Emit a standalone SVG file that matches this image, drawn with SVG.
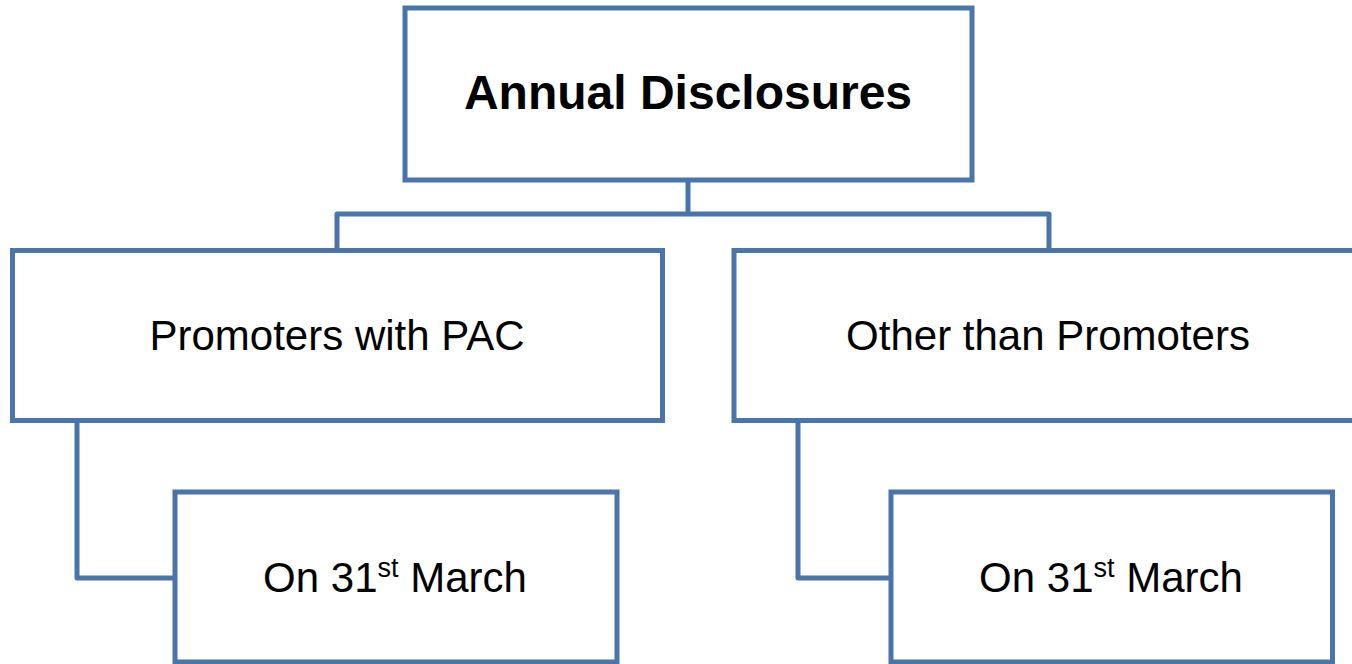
<svg xmlns="http://www.w3.org/2000/svg" width="1352" height="664" viewBox="0 0 1352 664">
<style>
.box{fill:#ffffff;stroke:#4a75ab;stroke-width:5}
.con{fill:none;stroke:#4a75ab;stroke-width:5;stroke-linejoin:round}
text{font-family:"Liberation Sans",Arial,sans-serif;fill:#000;text-anchor:middle}
.t{font-size:42px}
.b{font-size:48px;font-weight:bold}
</style>
<rect width="1352" height="664" fill="#ffffff"/>
<g id="connectors">
<path class="con" d="M688 180 V214 M337 251 V214 H1049 V251"/>
<path class="con" d="M77 421 V578 H175"/>
<path class="con" d="M798 421 V578 H891"/>
</g>
<g id="annual">
<rect class="box" x="405" y="8" width="567" height="172"/>
<text class="b" x="688" y="109">Annual Disclosures</text>
</g>
<g id="promoters">
<rect class="box" x="12.5" y="250.5" width="650" height="170"/>
<text class="t" x="337" y="350">Promoters with PAC</text>
</g>
<g id="others">
<rect class="box" x="734" y="250.5" width="630" height="170"/>
<text class="t" x="1048" y="350">Other than Promoters</text>
</g>
<g id="march-left">
<rect class="box" x="175" y="492" width="442" height="170"/>
<text class="t" x="395" y="592">On 31<tspan font-size="27" dy="-15">st</tspan><tspan dy="15"> March</tspan></text>
</g>
<g id="march-right">
<rect class="box" x="891" y="492" width="441.5" height="170"/>
<text class="t" x="1111" y="592">On 31<tspan font-size="27" dy="-15">st</tspan><tspan dy="15"> March</tspan></text>
</g>
</svg>
